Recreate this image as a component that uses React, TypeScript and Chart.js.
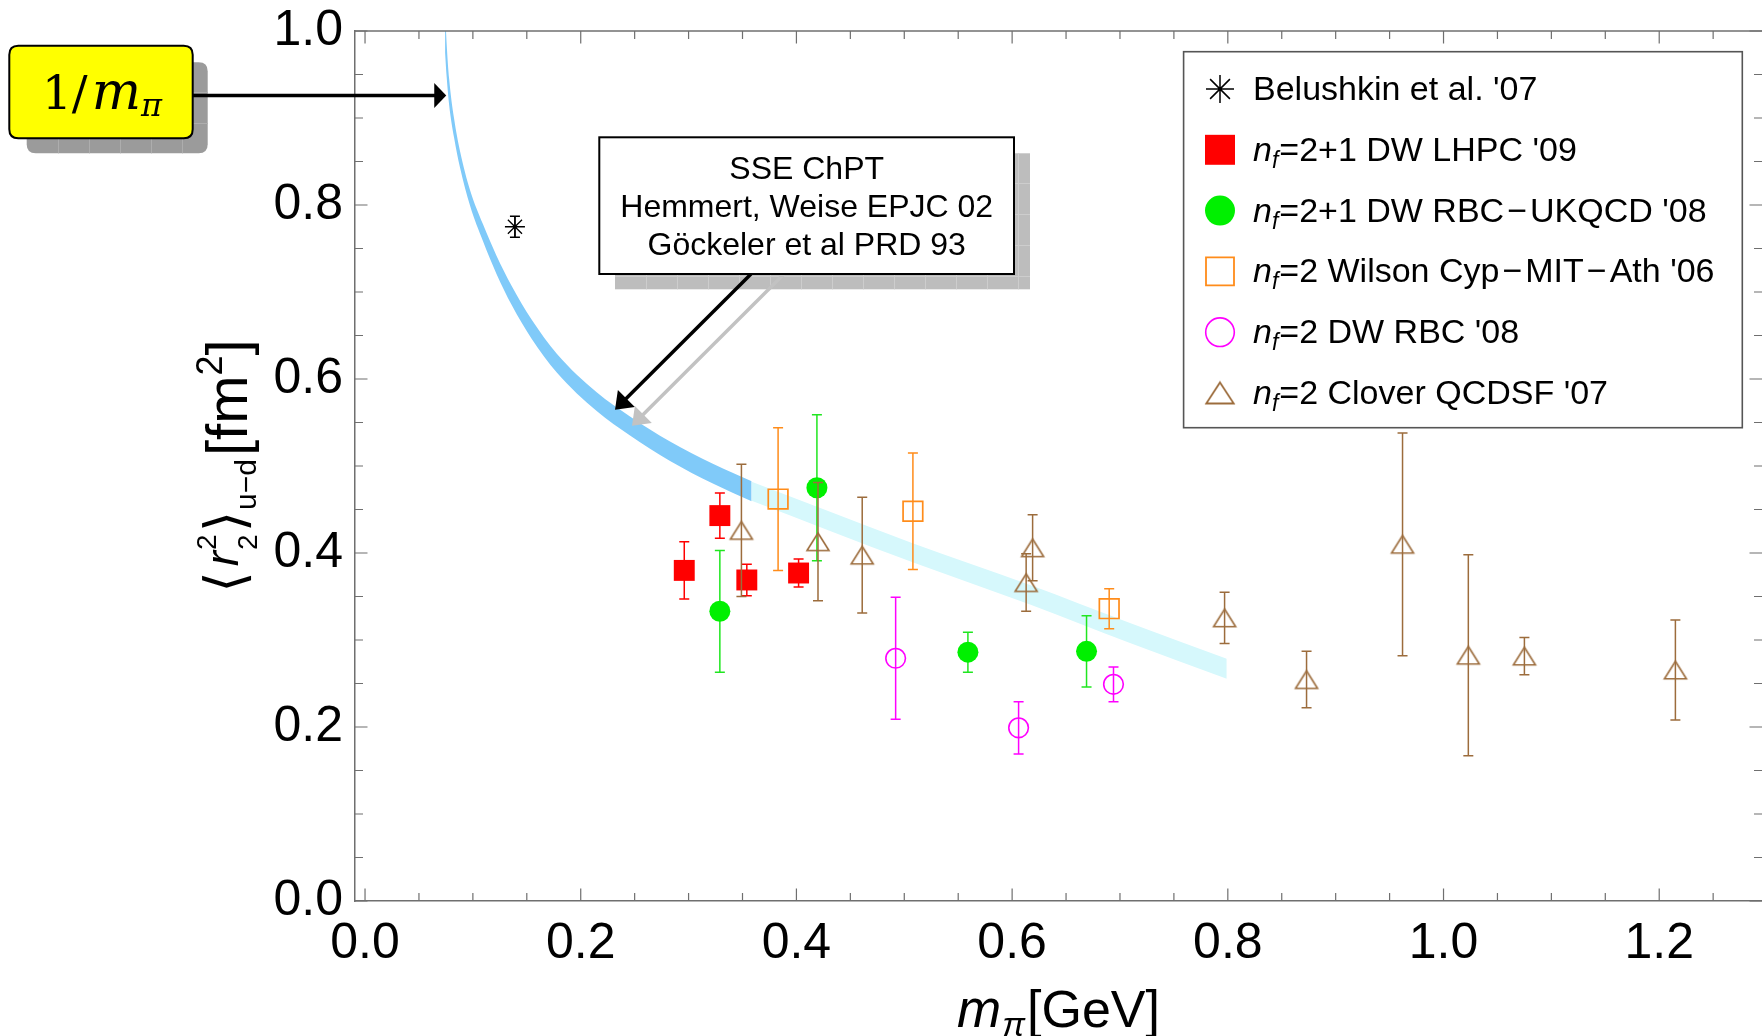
import React, { useEffect, useRef } from 'react';
import { Chart, registerables } from 'chart.js';
import { drawPoint } from 'chart.js/helpers';

Chart.register(...registerables);

const W = 1762;
const H = 1036;

// ---------- axes ----------
const xMin = -0.0093;
const xMax = 1.2953;
const yMin = 0;
const yMax = 1;
const xMajorTicks = [0, 0.2, 0.4, 0.6, 0.8, 1.0, 1.2];
const xMinorTicks = [0.05, 0.1, 0.15, 0.25, 0.3, 0.35, 0.45, 0.5, 0.55, 0.65, 0.7, 0.75, 0.85, 0.9, 0.95, 1.05, 1.1, 1.15, 1.25];
const yMajorTicks = [0, 0.2, 0.4, 0.6, 0.8, 1.0];
const yMinorTicks = [0.05, 0.1, 0.15, 0.25, 0.3, 0.35, 0.45, 0.5, 0.55, 0.65, 0.7, 0.75, 0.85, 0.9, 0.95];

// ---------- SSE ChPT band (centre and half-width) ----------
const darkBandX = [0.0742, 0.0757, 0.078, 0.0825, 0.088, 0.0974, 0.1094, 0.122, 0.136, 0.1546, 0.178, 0.2148, 0.2457, 0.2828, 0.323, 0.3585];
const darkBandMid = [1.0, 0.966, 0.93, 0.889, 0.853, 0.808, 0.768, 0.731, 0.696, 0.657, 0.618, 0.574, 0.546, 0.517, 0.491, 0.471];
const darkBandHalf = [0.025, 0.019, 0.015, 0.011, 0.0095, 0.009, 0.0098, 0.0105, 0.011, 0.011, 0.0108, 0.0108, 0.011, 0.0112, 0.0114, 0.0115];
const lightBandX = [0.3585, 0.43, 0.5084, 0.5625, 0.6166, 0.7093, 0.799];
const lightBandMid = [0.471, 0.437, 0.4, 0.376, 0.352, 0.308, 0.267];
const lightBandHalf = [0.011, 0.011, 0.011, 0.011, 0.0112, 0.0115, 0.0115];

// ---------- data series ----------
const belushkinX = [0.139];
const belushkinY = [0.775];
const belushkinErr = [0.012];

const lhpcX = [0.296, 0.329, 0.354, 0.402];
const lhpcY = [0.38, 0.443, 0.369, 0.377];
const lhpcErr = [0.033, 0.026, 0.018, 0.016];

const rbcUkqcdX = [0.329, 0.419, 0.559, 0.669];
const rbcUkqcdY = [0.333, 0.475, 0.286, 0.287];
const rbcUkqcdErr = [0.07, 0.084, 0.023, 0.041];

const cypX = [0.383, 0.508, 0.69];
const cypY = [0.462, 0.448, 0.336];
const cypErr = [0.082, 0.067, 0.023];

const rbcX = [0.492, 0.606, 0.694];
const rbcY = [0.279, 0.199, 0.249];
const rbcErr = [0.07, 0.03, 0.02];

const qcdsfX = [0.349, 0.42, 0.461, 0.619, 0.613, 0.797, 0.873, 0.962, 1.023, 1.075, 1.215];
const qcdsfY = [0.426, 0.413, 0.3975, 0.406, 0.366, 0.3255, 0.2545, 0.41, 0.2825, 0.2815, 0.2655];
const qcdsfErr = [0.076, 0.068, 0.0665, 0.038, 0.033, 0.0295, 0.0325, 0.128, 0.1155, 0.0215, 0.0575];

const seriesNames = [
  "Belushkin et al. '07",
  "nf=2+1 DW LHPC '09",
  "nf=2+1 DW RBC\u2212UKQCD '08",
  "nf=2 Wilson Cyp\u2212MIT\u2212Ath '06",
  "nf=2 DW RBC '08",
  "nf=2 Clover QCDSF '07",
];

// annotation anchors (data coordinates of arrow tips)
const invArrowTip = [0.0753, 0.926];
const sseArrowTip = [0.2318, 0.5647];
const sseLines = ['SSE ChPT', 'Hemmert, Weise EPJC 02', 'G\u00f6ckeler et al PRD 93'];

// ---------- styles ----------
const SANS = '"Liberation Sans", Arial, sans-serif';
const SERIF = '"DejaVu Serif", serif';
const DJV = '"DejaVu Sans", sans-serif';
const FRAME = '#6f6f6f';
const RED = '#ff0000';
const GREEN = '#00f000';
const ORANGE = '#ff8c1a';
const MAGENTA = '#ff00ff';
const BROWN = '#9c6c3c';
const DARK_BAND = '#80caf9';
const LIGHT_BAND = '#d6f8fc';
const CAP = 5;

function makeTriangle(w: number, h: number, color: string, lw: number) {
  const c = document.createElement('canvas');
  const pad = Math.ceil(lw) + 1;
  c.width = Math.round(w + 2 * pad);
  c.height = Math.round(h + 2 * pad);
  const ctx = c.getContext('2d')!;
  ctx.strokeStyle = color;
  ctx.lineWidth = lw;
  const cx = c.width / 2;
  const cy = c.height / 2;
  ctx.beginPath();
  ctx.moveTo(cx, cy - h / 2);
  ctx.lineTo(cx + w / 2, cy + h / 2);
  ctx.lineTo(cx - w / 2, cy + h / 2);
  ctx.closePath();
  ctx.stroke();
  return c;
}

type Part = { t: string; font: string; dy?: number; gap?: number; noAdv?: boolean };

function partsWidth(ctx: CanvasRenderingContext2D, parts: Part[]) {
  let w = 0;
  for (const p of parts) {
    ctx.font = p.font;
    if (!p.noAdv) w += ctx.measureText(p.t).width + (p.gap || 0);
  }
  return w;
}

function drawParts(ctx: CanvasRenderingContext2D, parts: Part[], x: number, y: number) {
  let cx = x;
  for (const p of parts) {
    ctx.font = p.font;
    ctx.fillText(p.t, cx, y + (p.dy || 0));
    if (!p.noAdv) cx += ctx.measureText(p.t).width + (p.gap || 0);
  }
}

function rrect(ctx: CanvasRenderingContext2D, x: number, y: number, w: number, h: number, r: number) {
  ctx.beginPath();
  ctx.moveTo(x + r, y);
  ctx.lineTo(x + w - r, y);
  ctx.quadraticCurveTo(x + w, y, x + w, y + r);
  ctx.lineTo(x + w, y + h - r);
  ctx.quadraticCurveTo(x + w, y + h, x + w - r, y + h);
  ctx.lineTo(x + r, y + h);
  ctx.quadraticCurveTo(x, y + h, x, y + h - r);
  ctx.lineTo(x, y + r);
  ctx.quadraticCurveTo(x, y, x + r, y);
  ctx.closePath();
}

function shadowGrid(ctx: CanvasRenderingContext2D, x: number, y: number, w: number, h: number, lineColor: string) {
  ctx.save();
  ctx.strokeStyle = lineColor;
  ctx.lineWidth = 1;
  ctx.beginPath();
  for (let gx = x + 31; gx < x + w; gx += 31) {
    ctx.moveTo(Math.round(gx) + 0.5, y);
    ctx.lineTo(Math.round(gx) + 0.5, y + h);
  }
  for (let gy = y + 30; gy < y + h; gy += 31) {
    ctx.moveTo(x, Math.round(gy) + 0.5);
    ctx.lineTo(x + w, Math.round(gy) + 0.5);
  }
  ctx.stroke();
  ctx.restore();
}

function arrow(ctx: CanvasRenderingContext2D, x0: number, y0: number, x1: number, y1: number, color: string, lw: number, headL: number, headW: number) {
  const dx = x1 - x0;
  const dy = y1 - y0;
  const len = Math.hypot(dx, dy);
  const ux = dx / len;
  const uy = dy / len;
  const bx = x1 - ux * headL;
  const by = y1 - uy * headL;
  ctx.strokeStyle = color;
  ctx.fillStyle = color;
  ctx.lineWidth = lw;
  ctx.beginPath();
  ctx.moveTo(x0, y0);
  ctx.lineTo(bx + ux * 2, by + uy * 2);
  ctx.stroke();
  ctx.beginPath();
  ctx.moveTo(x1, y1);
  ctx.lineTo(bx - uy * headW, by + ux * headW);
  ctx.lineTo(bx + uy * headW, by - ux * headW);
  ctx.closePath();
  ctx.fill();
}

export default function App() {
  const ref = useRef<HTMLCanvasElement>(null);

  useEffect(() => {
    const canvas = ref.current;
    if (!canvas) return;

    const triPlot = makeTriangle(22, 17.5, BROWN, 1.6);
    const triLegend = makeTriangle(27.5, 21, BROWN, 1.8);

    const pts = (xs: number[], ys: number[]) => xs.map((x, i) => ({ x, y: ys[i] }));
    const edge = (xs: number[], mid: number[], half: number[], sign: number) =>
      xs.map((x, i) => ({ x, y: mid[i] + sign * half[i] }));

    const bandCommon = {
      type: 'line',
      borderColor: 'rgba(0,0,0,0)',
      borderWidth: 1,
      pointRadius: 0,
      showLine: true,
      cubicInterpolationMode: 'monotone',
    };

    const datasets: any[] = [
      { ...bandCommon, data: edge(darkBandX, darkBandMid, darkBandHalf, -1), fill: false, order: 13 },
      { ...bandCommon, data: edge(darkBandX, darkBandMid, darkBandHalf, 1), fill: '-1', backgroundColor: DARK_BAND, order: 12 },
      { ...bandCommon, data: edge(lightBandX, lightBandMid, lightBandHalf, -1), fill: false, order: 11 },
      { ...bandCommon, data: edge(lightBandX, lightBandMid, lightBandHalf, 1), fill: '-1', backgroundColor: LIGHT_BAND, order: 10 },
      {
        label: seriesNames[0], data: pts(belushkinX, belushkinY), errorBars: belushkinErr, errorColor: '#000',
        pointStyle: 'star', pointRadius: 10, borderColor: '#000', backgroundColor: '#000', pointBorderWidth: 1.3, order: 6,
      },
      {
        label: seriesNames[1], data: pts(lhpcX, lhpcY), errorBars: lhpcErr, errorColor: RED,
        pointStyle: 'rect', pointRadius: 14.8, backgroundColor: RED, borderColor: RED, pointBorderWidth: 0, order: 5,
      },
      {
        label: seriesNames[2], data: pts(rbcUkqcdX, rbcUkqcdY), errorBars: rbcUkqcdErr, errorColor: '#20e620',
        pointStyle: 'circle', pointRadius: 10.5, backgroundColor: GREEN, borderColor: GREEN, pointBorderWidth: 0, order: 4,
      },
      {
        label: seriesNames[3], data: pts(cypX, cypY), errorBars: cypErr, errorColor: ORANGE,
        pointStyle: 'rect', pointRadius: 13.9, backgroundColor: 'rgba(0,0,0,0)', borderColor: ORANGE, pointBorderWidth: 1.7, order: 3,
      },
      {
        label: seriesNames[4], data: pts(rbcX, rbcY), errorBars: rbcErr, errorColor: MAGENTA,
        pointStyle: 'circle', pointRadius: 9.8, backgroundColor: 'rgba(0,0,0,0)', borderColor: MAGENTA, pointBorderWidth: 1.6, order: 2,
      },
      {
        label: seriesNames[5], data: pts(qcdsfX, qcdsfY), errorBars: qcdsfErr, errorColor: BROWN,
        pointStyle: triPlot, pointRadius: 12, backgroundColor: 'rgba(0,0,0,0)', borderColor: BROWN, order: 1,
      },
    ];

    const overlay = {
      id: 'overlay',
      beforeDatasetDraw(chart: any, args: any) {
        const ds: any = chart.data.datasets[args.index];
        if (!ds.errorBars) return;
        const ctx: CanvasRenderingContext2D = chart.ctx;
        const xs = chart.scales.x;
        const ys = chart.scales.y;
        const a = chart.chartArea;
        ctx.save();
        ctx.beginPath();
        ctx.rect(a.left, a.top, a.right - a.left, a.bottom - a.top);
        ctx.clip();
        ctx.strokeStyle = ds.errorColor;
        ctx.lineWidth = 1.5;
        ds.data.forEach((p: any, i: number) => {
          const e = ds.errorBars[i];
          const px = xs.getPixelForValue(p.x);
          const t = ys.getPixelForValue(p.y + e);
          const b = ys.getPixelForValue(p.y - e);
          ctx.beginPath();
          ctx.moveTo(px, t);
          ctx.lineTo(px, b);
          ctx.moveTo(px - CAP, t);
          ctx.lineTo(px + CAP, t);
          ctx.moveTo(px - CAP, b);
          ctx.lineTo(px + CAP, b);
          ctx.stroke();
        });
        ctx.restore();
      },
      afterDraw(chart: any) {
        const ctx: CanvasRenderingContext2D = chart.ctx;
        const a = chart.chartArea;
        const xs = chart.scales.x;
        const ys = chart.scales.y;
        ctx.save();

        // top frame and inward ticks on all sides
        ctx.strokeStyle = FRAME;
        ctx.lineWidth = 1.5;
        ctx.beginPath();
        ctx.moveTo(a.left, a.top);
        ctx.lineTo(a.right, a.top);
        ctx.stroke();
        ctx.lineWidth = 1.2;
        ctx.beginPath();
        const tx = (v: number, len: number) => {
          const px = xs.getPixelForValue(v);
          ctx.moveTo(px, a.bottom);
          ctx.lineTo(px, a.bottom - len);
          ctx.moveTo(px, a.top);
          ctx.lineTo(px, a.top + len);
        };
        const ty = (v: number, len: number) => {
          const py = ys.getPixelForValue(v);
          ctx.moveTo(a.left, py);
          ctx.lineTo(a.left + len, py);
          ctx.moveTo(a.right, py);
          ctx.lineTo(a.right - len, py);
        };
        xMajorTicks.forEach((v) => tx(v, 12.5));
        xMinorTicks.forEach((v) => tx(v, 8));
        yMajorTicks.forEach((v) => ty(v, 12.5));
        yMinorTicks.forEach((v) => ty(v, 8));
        ctx.stroke();

        ctx.fillStyle = '#000';
        ctx.textAlign = 'left';
        ctx.textBaseline = 'alphabetic';

        // x-axis title
        const xParts: Part[] = [
          { t: 'm', font: `italic 53px ${SANS}`, gap: 1 },
          { t: '\u03c0', font: `italic 34px ${SANS}`, dy: 9, gap: 2 },
          { t: '[GeV]', font: `52px ${SANS}` },
        ];
        const xw = partsWidth(ctx, xParts);
        drawParts(ctx, xParts, (a.left + a.right) / 2 - xw / 2, 1027);

        // y-axis title (rotated)
        const yParts: Part[] = [
          { t: '\u27e8', font: `55px ${DJV}`, dy: -3, gap: 5 },
          { t: 'r', font: `italic 46px ${SANS}`, dy: -9, gap: 1 },
          { t: '2', font: `28px ${SANS}`, dy: -31, noAdv: true },
          { t: '2', font: `28px ${SANS}`, dy: 10, gap: 2 },
          { t: '\u27e9', font: `55px ${DJV}`, dy: -3, gap: 1 },
          { t: 'u\u2212d', font: `30px ${SANS}`, dy: 9, gap: 3 },
          { t: '[fm', font: `58px ${SANS}` },
          { t: '2', font: `36px ${SANS}`, dy: -25 },
          { t: ']', font: `58px ${SANS}` },
        ];
        const yw = partsWidth(ctx, yParts);
        ctx.save();
        ctx.translate(247, (a.top + a.bottom) / 2);
        ctx.rotate(-Math.PI / 2);
        drawParts(ctx, yParts, -yw / 2, 0);
        ctx.restore();

        // 1/m_pi annotation box
        ctx.fillStyle = '#9b9b9b';
        rrect(ctx, 26.7, 62.3, 181, 91, 9);
        ctx.fill();
        shadowGrid(ctx, 26.7, 62.3, 181, 91, '#adadad');
        ctx.fillStyle = '#ffff00';
        rrect(ctx, 9.3, 45.7, 183.4, 92.6, 9);
        ctx.fill();
        ctx.strokeStyle = '#000';
        ctx.lineWidth = 2;
        ctx.stroke();
        ctx.fillStyle = '#000';
        const invParts: Part[] = [
          { t: '1', font: `47px ${SERIF}` },
          { t: '/', font: `47px ${SERIF}`, gap: 4 },
          { t: 'm', font: `italic 52px ${SERIF}` },
          { t: '\u03c0', font: `italic 32px ${SERIF}`, dy: 7 },
        ];
        const iw = partsWidth(ctx, invParts);
        drawParts(ctx, invParts, 102 - iw / 2, 109);
        const itx = xs.getPixelForValue(invArrowTip[0]);
        const ity = ys.getPixelForValue(invArrowTip[1]);
        arrow(ctx, 192.7, ity, itx, ity, '#000', 3.5, 12, 12.5);

        // SSE ChPT annotation box
        ctx.fillStyle = '#bdbdbd';
        ctx.fillRect(615, 153.3, 415, 136);
        shadowGrid(ctx, 615, 153.3, 415, 136, '#cdcdcd');
        const stx = xs.getPixelForValue(sseArrowTip[0]);
        const sty = ys.getPixelForValue(sseArrowTip[1]);
        arrow(ctx, stx + 17 + 152, 274, stx + 17, sty + 16, '#c2c2c2', 3.5, 16, 12);
        arrow(ctx, stx + 136, 274, stx, sty, '#000', 3.5, 16, 12);
        ctx.fillStyle = '#fff';
        ctx.fillRect(599.3, 137.3, 414.7, 136.7);
        ctx.strokeStyle = '#000';
        ctx.lineWidth = 2;
        ctx.strokeRect(599.3, 137.3, 414.7, 136.7);
        ctx.fillStyle = '#000';
        ctx.font = `32px ${SANS}`;
        ctx.textAlign = 'center';
        sseLines.forEach((s, i) => ctx.fillText(s, 806.7, 179.3 + i * 38));
        ctx.textAlign = 'left';

        // legend
        ctx.fillStyle = '#fff';
        ctx.fillRect(1183.6, 51.7, 558.7, 376);
        ctx.strokeStyle = '#555';
        ctx.lineWidth = 1.6;
        ctx.strokeRect(1183.6, 51.7, 558.7, 376);
        const mx = 1220;
        const rowY = (i: number) => 100 + i * 60.8;
        const markers: any[] = [
          { style: 'star', r: 14, fill: 'rgba(0,0,0,0)', stroke: '#000', bw: 1.5 },
          { style: 'rect', r: 21.2, fill: RED, stroke: RED, bw: 0 },
          { style: 'circle', r: 15, fill: GREEN, stroke: GREEN, bw: 0 },
          { style: 'rect', r: 19.8, fill: 'rgba(0,0,0,0)', stroke: ORANGE, bw: 1.8 },
          { style: 'circle', r: 14.3, fill: 'rgba(0,0,0,0)', stroke: MAGENTA, bw: 1.6 },
          { style: triLegend, r: 16, fill: 'rgba(0,0,0,0)', stroke: BROWN, bw: 1.8 },
        ];
        const LF = `34px ${SANS}`;
        seriesNames.forEach((name, i) => {
          const m = markers[i];
          const cy = rowY(i) - 11;
          ctx.save();
          ctx.fillStyle = m.fill;
          ctx.strokeStyle = m.stroke;
          ctx.lineWidth = m.bw;
          drawPoint(ctx, { pointStyle: m.style, rotation: 0, radius: m.r, borderWidth: m.bw } as any, mx, cy);
          ctx.restore();
          ctx.fillStyle = '#000';
          const parts: Part[] = [];
          let rest = name;
          if (name.startsWith('nf')) {
            parts.push({ t: 'n', font: `italic 34px ${SANS}` });
            parts.push({ t: 'f', font: `italic 23px ${SANS}`, dy: 7, gap: 1 });
            rest = name.slice(2);
          }
          const segs = rest.split('\u2212');
          segs.forEach((s, k) => {
            const last = k === segs.length - 1;
            parts.push({ t: s, font: LF, gap: last ? 0 : 3 });
            if (!last) parts.push({ t: '\u2212', font: LF, gap: 3 });
          });
          drawParts(ctx, parts, 1253, rowY(i));
        });

        ctx.restore();
      },
    };

    const chart = new Chart(canvas, {
      type: 'scatter',
      data: { datasets },
      options: {
        animation: false,
        responsive: false,
        devicePixelRatio: 1,
        layout: { autoPadding: false, padding: { left: 0, right: 0, top: 31, bottom: 0 } },
        plugins: { legend: { display: false }, tooltip: { enabled: false } },
        scales: {
          x: {
            type: 'linear',
            min: xMin,
            max: xMax,
            afterBuildTicks: (s: any) => {
              s.ticks = xMajorTicks.map((v) => ({ value: v }));
            },
            afterFit: (s: any) => {
              s.height = 135;
              s.paddingLeft = 0;
              s.paddingRight = 0;
            },
            ticks: {
              callback: (v: any) => Number(v).toFixed(1),
              font: { family: SANS, size: 50 },
              color: '#000',
              padding: 13,
              maxRotation: 0,
              autoSkip: false,
            },
            grid: { display: false, drawTicks: false },
            border: { display: true, color: FRAME, width: 1.5 },
          },
          y: {
            type: 'linear',
            min: yMin,
            max: yMax,
            afterBuildTicks: (s: any) => {
              s.ticks = yMajorTicks.map((v) => ({ value: v }));
            },
            afterFit: (s: any) => {
              s.width = 355;
              s.paddingTop = 0;
              s.paddingBottom = 0;
            },
            ticks: {
              callback: (v: any) => Number(v).toFixed(1),
              font: { family: SANS, size: 50 },
              color: '#000',
              padding: 12,
              autoSkip: false,
            },
            grid: { display: false, drawTicks: false },
            border: { display: true, color: FRAME, width: 1.5 },
          },
        },
      } as any,
      plugins: [overlay as any],
    });

    return () => chart.destroy();
  }, []);

  return (
    <div style={{ position: 'fixed', left: 0, top: 0, width: W, height: H, background: '#fff' }}>
      <canvas ref={ref} width={W} height={H} style={{ display: 'block', width: W, height: H }} />
    </div>
  );
}
